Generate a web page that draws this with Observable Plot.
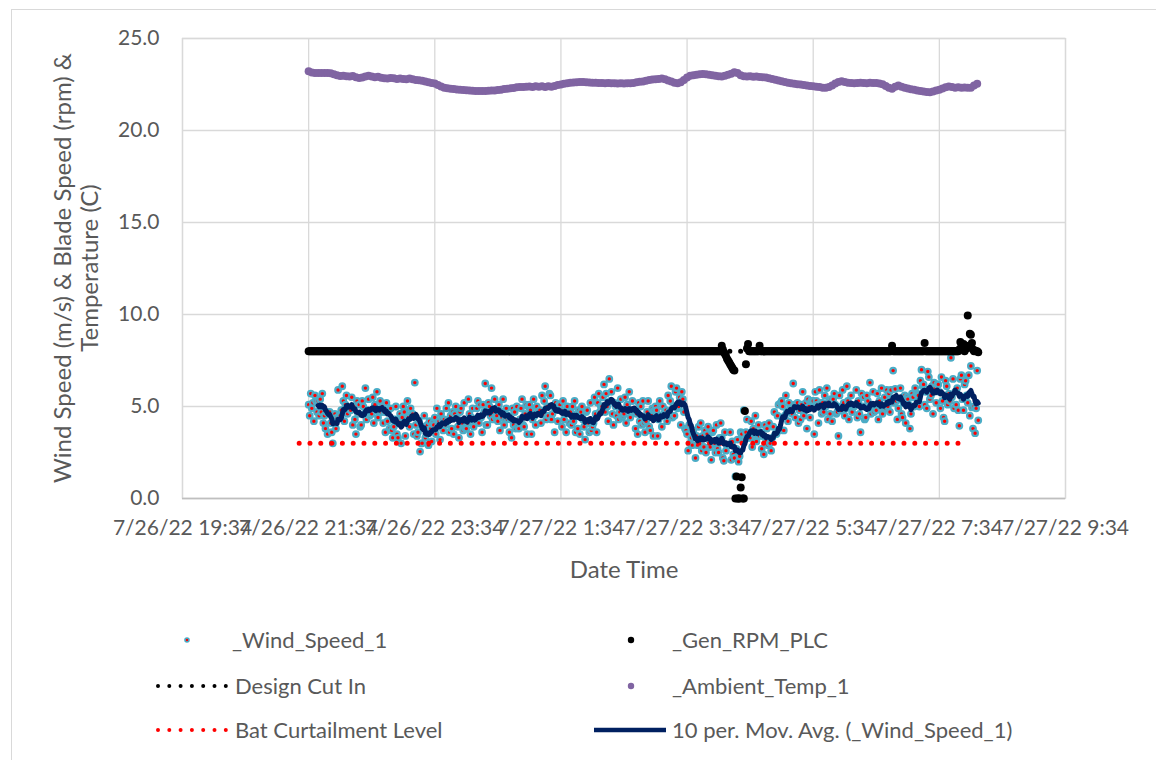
<!DOCTYPE html>
<html><head><meta charset="utf-8">
<script src="https://cdn.jsdelivr.net/npm/d3@7"></script>
<script src="https://cdn.jsdelivr.net/npm/@observablehq/plot@0.6"></script>
<style>
html,body{margin:0;padding:0;background:#fff;overflow:hidden;}
#wrap{position:relative;width:1156px;height:760px;font-family:Lato,"Noto Sans",sans-serif;color:#595959;overflow:hidden;}
#frame{position:absolute;left:11px;top:9px;width:1300px;height:900px;border:1.5px solid #d9d9d9;box-sizing:border-box;}
#chart{position:absolute;left:0;top:0;}
#overlay{position:absolute;left:0;top:0;}
.ytitle{position:absolute;left:75px;top:268px;transform:translate(-50%,-50%) rotate(-90deg);white-space:nowrap;text-align:center;font-size:24px;line-height:27px;}
.xtitle{position:absolute;left:624px;top:568px;transform:translate(-50%,-50%);font-size:24px;white-space:nowrap;}
</style></head><body>
<div id="wrap">
  <div id="frame"></div>
  <div id="chart"></div>
  <div class="ytitle">Wind Speed (m/s) &amp; Blade Speed (rpm) &amp;<br>Temperature (C)</div>
  <div class="xtitle">Date Time</div>
  <svg id="overlay" width="1156" height="760"></svg>
</div>
<script>
// ---------- DATA ----------
const xTickLabels = ["7/26/22 19:34","7/26/22 21:34","7/26/22 23:34","7/27/22 1:34","7/27/22 3:34","7/27/22 5:34","7/27/22 7:34","7/27/22 9:34"];
const yTicks = [0, 5, 10, 15, 20, 25];
const sampleStart = "7/26/22 21:34";
const windStepMin = 1, rpmStepMin = 1, tempStepMin = 3;

// _Wind_Speed_1 (m/s), one reading per minute from 21:34
const windSpeed = [
5.1,4.5,5.7,4.9,5.2,4.2,5.6,5.3,4.7,5.3,
4.5,5.4,4.7,5.7,4.1,4.5,3.8,4.7,3.5,4.6,
4.7,4.1,3.6,3.0,4.4,4.6,3.8,4.4,5.9,4.5,
4.5,4.8,6.1,5.3,4.2,5.1,5.6,4.6,4.9,4.9,
4.8,5.5,4.0,5.0,4.3,3.5,5.3,4.6,5.1,3.9,
4.0,5.3,5.0,4.6,6.0,4.3,4.8,5.4,4.5,4.6,
4.6,5.5,4.1,5.1,4.8,5.8,4.4,4.7,5.3,4.7,
5.0,4.1,4.7,3.6,5.2,4.2,4.8,3.8,4.9,3.7,
3.3,3.9,4.3,5.0,3.5,3.3,4.2,4.6,3.0,4.4,
5.0,4.7,3.4,4.2,5.3,4.4,3.9,4.9,4.6,4.6,
3.5,6.3,4.0,3.4,3.6,4.2,2.55,3.0,3.0,3.9,
4.5,3.3,3.5,4.0,2.9,4.2,3.8,3.1,4.1,4.0,
4.4,3.5,4.9,3.9,4.2,3.2,4.6,4.3,3.7,4.3,
4.0,4.9,4.2,5.2,3.6,4.5,3.8,4.7,3.5,4.6,
5.0,4.4,3.9,3.3,4.7,4.9,4.1,3.7,5.2,3.8,
3.8,4.1,5.4,4.6,3.5,4.4,4.9,3.9,4.2,4.2,
4.9,5.3,4.1,5.1,4.4,3.6,5.1,4.7,6.25,4.0,
4.0,5.2,5.0,4.5,6.0,4.3,4.7,5.4,4.4,4.5,
4.2,5.1,3.7,4.7,4.4,5.4,4.0,4.3,4.9,4.3,
4.5,3.6,4.3,3.3,4.9,4.0,4.7,3.8,5.0,3.9,
3.8,4.3,4.9,5.4,4.0,3.9,4.6,5.1,3.5,5.0,
5.1,4.8,3.5,4.3,5.4,4.5,4.0,5.0,4.7,4.7,
4.8,4.1,5.6,4.6,5.3,6.1,4.3,5.0,4.5,5.7,
5.6,4.3,4.6,5.0,3.6,5.2,4.8,4.2,5.1,5.1,
4.8,3.9,5.3,4.3,4.6,3.6,5.0,4.7,4.1,4.7,
4.0,5.0,4.2,5.3,3.6,4.6,3.8,4.8,3.5,4.7,
5.0,4.3,3.9,3.2,4.7,4.8,4.1,3.6,5.2,3.7,
3.9,4.1,5.5,4.6,3.6,5.2,5.7,4.7,5.0,5.0,
5.5,6.2,4.7,5.7,5.0,4.2,6.5,5.3,5.8,4.6,
4.0,5.2,5.0,4.5,6.0,4.3,4.7,5.4,4.4,4.5,
4.6,5.5,4.1,5.1,4.8,5.8,4.4,4.7,5.3,4.7,
4.8,3.8,4.6,3.5,5.2,4.2,5.0,4.0,5.3,4.1,
3.6,4.2,4.7,5.3,3.9,3.7,4.5,4.9,3.4,4.8,
5.0,4.8,3.4,4.3,5.3,4.5,3.9,5.0,4.6,4.7,
4.8,4.2,5.6,4.7,5.3,6.1,4.4,5.0,4.5,5.8,
6.0,4.9,5.0,5.5,4.0,5.8,5.4,4.7,3.8,3.7,
3.5,2.6,4.0,3.0,3.3,2.9,3.7,3.4,2.2,3.4,
2.9,3.9,3.1,4.1,2.6,3.4,2.8,3.7,2.5,3.5,
3.9,3.2,2.8,2.1,3.6,3.7,3.0,2.5,4.0,2.7,
2.5,3.3,4.1,3.3,2.2,2.05,3.6,2.6,2.9,2.9,
2.9,3.6,2.1,3.1,2.4,2.2,1.2,2.7,3.2,2.0,
2.3,3.6,3.5,3.2,4.8,3.2,3.6,4.3,3.3,3.4,
3.3,4.2,2.8,3.8,3.5,4.5,3.1,3.4,4.0,3.4,
3.6,2.7,3.4,2.4,4.0,3.1,3.8,2.9,4.1,3.0,
2.6,3.3,3.9,4.7,3.5,3.5,4.5,5.1,3.7,5.2,
5.3,5.0,3.7,4.5,5.6,4.7,4.2,5.2,4.9,4.9,
4.6,6.25,5.1,4.4,5.1,5.2,4.1,4.8,4.3,5.1,
5.8,4.5,4.8,5.2,3.8,5.4,5.0,4.4,5.3,5.3,
5.3,3.5,5.8,5.3,5.1,4.1,5.9,5.2,4.6,5.2,
4.7,5.6,5.0,6.0,4.3,5.3,4.6,5.4,4.2,5.4,
5.7,5.1,4.6,4.7,3.4,5.6,4.8,5.0,5.9,5.2,
4.5,4.9,6.1,5.3,4.3,5.1,5.6,4.7,5.0,5.0,
5.1,5.9,4.4,5.3,4.6,3.6,5.7,5.0,5.5,4.3,
4.4,5.6,5.3,4.9,6.3,4.6,5.0,5.8,4.7,4.9,
4.8,5.7,4.3,5.3,5.0,6.0,4.6,4.9,5.5,4.9,
5.9,5.0,5.7,4.7,5.9,5.4,6.95,5.2,5.95,5.3,
4.3,4.9,5.4,6.0,4.6,4.4,5.2,5.6,4.1,5.5,
5.4,5.1,3.8,4.6,5.7,5.5,5.0,6.0,5.7,5.7,
5.6,5.0,6.4,7.0,6.1,6.2,5.1,5.8,4.9,6.9,
6.6,5.4,5.6,6.1,4.6,6.3,6.0,5.2,6.2,6.2,
5.8,4.9,6.6,5.3,4.4,4.2,6.4,6.1,5.1,5.7,
5.3,7.65,5.5,6.5,4.9,5.8,5.1,6.0,4.8,3.95,
6.5,6.7,5.4,4.8,6.2,6.4,5.6,5.2,6.7,4.5,
7.2,4.95,3.8,5.0,3.55,4.9,6.95,4.25
];

// _Gen_RPM_PLC, one reading per minute from 21:34
const genRpm = [
8,8,8,8,8,8,8,8,8,8,8,8,8,8,8,8,8,8,8,8,8,8,8,8,8,8,8,8,8,8,
8,8,8,8,8,8,8,8,8,8,8,8,8,8,8,8,8,8,8,8,8,8,8,8,8,8,8,8,8,8,
8,8,8,8,8,8,8,8,8,8,8,8,8,8,8,8,8,8,8,8,8,8,8,8,8,8,8,8,8,8,
8,8,8,8,8,8,8,8,8,8,8,8,8,8,8,8,8,8,8,8,8,8,8,8,8,8,8,8,8,8,
8,8,8,8,8,8,8,8,8,8,8,8,8,8,8,8,8,8,8,8,8,8,8,8,8,8,8,8,8,8,
8,8,8,8,8,8,8,8,8,8,8,8,8,8,8,8,8,8,8,8,8,8,8,8,8,8,8,8,8,8,
8,8,8,8,8,8,8,8,8,8,8,8,8,8,8,8,8,8,8,8,8,8,8,8,8,8,8,8,8,8,
8,8,8,8,8,8,8,8,8,8,8,8,8,8,8,8,8,8,8,8,8,8,8,8,8,8,8,8,8,8,
8,8,8,8,8,8,8,8,8,8,8,8,8,8,8,8,8,8,8,8,8,8,8,8,8,8,8,8,8,8,
8,8,8,8,8,8,8,8,8,8,8,8,8,8,8,8,8,8,8,8,8,8,8,8,8,8,8,8,8,8,
8,8,8,8,8,8,8,8,8,8,8,8,8,8,8,8,8,8,8,8,8,8,8,8,8,8,8,8,8,8,
8,8,8,8,8,8,8,8,8,8,8,8,8,8,8,8,8,8,8,8,8,8,8,8,8,8,8,8,8,8,
8,8,8,8,8,8,8,8,8,8,8,8,8,8,8,8,8,8,8,8,8,8,8,8,8,8,8,8,8,8,
8,8,8,8.3,
8.1,7.95,7.85,7.75,7.6,7.5,7.4,7.3,7.2,7.1,7.0,6.95,
0,1.2,0,0,0,0.6,1.15,0,0,
4.75,7.3,8.15,8.4,
8,8,8,8,8,8,8,8,8,8,8.3,
8,8,8,8,8,8,8,8,8,8,8,8,8,8,8,8,8,8,8,8,8,8,8,8,8,
8,8,8,8,8,8,8,8,8,8,8,8,8,8,8,8,8,8,8,8,8,8,8,8,8,
8,8,8,8,8,8,8,8,8,8,8,8,8,8,8,8,8,8,8,8,8,8,8,8,8,
8,8,8,8,8,8,8,8,8,8,8,8,8,8,8,8,8,8,8,8,8,8,8,8,8,
8,8,8,8,8,8,8,8,8,8,8,8,8,8,8,8,8,8,8,8,8,8,8,8,8,
8.3,
8,8,8,8,8,8,8,8,8,8,8,8,8,8,8,8,8,8,8,8,8,8,8,8,8,8,8,8,8,8,
8.45,
8,8,8,8,8,8,8,8,8,8,8,8,8,8,8,8,8,8,8,8,8,8,8,8,8,8,8,8,8,8,8,8,
8.1,8.5,8.3,8.2,8.4,8.0,8.2,8.15,9.95,8.3,8.95,8.9,8.45,8.1,8.0,8.05,8.0,8.0,7.95
];

// _Ambient_Temp_1 (C), every 3 minutes from 21:34
const ambientTemp = [
23.22,23.15,23.13,23.12,23.12,23.12,23.13,23.11,23.06,23.0,
22.96,22.98,22.95,22.93,22.96,22.9,22.86,22.88,22.94,22.98,
22.93,22.9,22.92,22.87,22.84,22.82,22.86,22.84,22.8,22.82,
22.8,22.78,22.82,22.78,22.74,22.73,22.7,22.66,22.62,22.58,
22.55,22.47,22.39,22.33,22.29,22.27,22.25,22.23,22.22,22.2,
22.19,22.17,22.16,22.15,22.14,22.14,22.15,22.16,22.18,22.18,
22.2,22.22,22.25,22.27,22.29,22.31,22.35,22.37,22.36,22.38,
22.39,22.37,22.4,22.38,22.4,22.37,22.4,22.38,22.42,22.47,
22.5,22.54,22.57,22.6,22.61,22.62,22.63,22.63,22.62,22.61,
22.6,22.6,22.58,22.58,22.57,22.58,22.57,22.57,22.56,22.57,
22.56,22.57,22.57,22.58,22.62,22.65,22.66,22.7,22.74,22.77,
22.79,22.8,22.82,22.78,22.72,22.66,22.6,22.57,22.62,22.75,
22.88,22.97,23.0,23.03,23.06,23.07,23.06,23.03,23.0,22.97,
22.95,22.94,22.98,23.03,23.08,23.17,23.12,23.0,22.95,22.93,
22.95,22.92,22.93,22.91,22.9,22.88,22.84,22.8,22.76,22.72,
22.68,22.64,22.6,22.57,22.54,22.51,22.5,22.47,22.45,22.42,
22.4,22.38,22.36,22.33,22.32,22.36,22.45,22.55,22.63,22.68,
22.64,22.6,22.58,22.57,22.58,22.6,22.58,22.57,22.59,22.58,
22.58,22.56,22.52,22.42,22.32,22.27,22.38,22.45,22.38,22.32,
22.28,22.24,22.21,22.18,22.15,22.12,22.09,22.08,22.12,22.17,
22.22,22.28,22.35,22.39,22.36,22.33,22.35,22.33,22.34,22.32,
22.33,22.45,22.54
];

// Reference levels
const designCutIn = 8.0;
const designCutInSpan = ["7/26/22 21:34", "7/27/22 7:58"];
const batCurtailment = 3.0;
const batCurtailmentSpan = ["7/26/22 21:25", "7/27/22 8:01"];

const seriesNames = ["_Wind_Speed_1", "_Gen_RPM_PLC", "Design Cut In", "_Ambient_Temp_1", "Bat Curtailment Level", "10 per. Mov. Avg. (_Wind_Speed_1)"];

// ---------- BUILD ----------
const parseT = d3.timeParse("%m/%d/%y %H:%M");
const xTicks = xTickLabels.map(parseT);
const labelOf = new Map(xTicks.map((d, i) => [+d, xTickLabels[i]]));
const t0 = parseT(sampleStart);
const windRows = windSpeed.map((v, i) => ({t: d3.timeMinute.offset(t0, i * windStepMin), v}));
const rpmRows = genRpm.map((v, i) => ({t: d3.timeMinute.offset(t0, i * rpmStepMin), v}));
const tempRows = ambientTemp.map((v, i) => ({t: d3.timeMinute.offset(t0, i * tempStepMin), v}));
const cutRows = designCutInSpan.map(s => ({t: parseT(s), v: designCutIn}));
const batRows = batCurtailmentSpan.map(s => ({t: parseT(s), v: batCurtailment}));

const C = {wind: "#4bacc6", windFill: "#ff0000", rpm: "#000000", temp: "#8064a2", bat: "#ff0000", ma: "#002060", grid: "#d9d9d9"};

const chart = Plot.plot({
  width: 1156, height: 600,
  marginLeft: 182, marginRight: 91, marginTop: 38, marginBottom: 102,
  style: {fontFamily: "Lato, 'Noto Sans', sans-serif", fontSize: "21px", color: "#595959", background: "transparent", overflow: "visible"},
  x: {type: "time", domain: [xTicks[0], xTicks[xTicks.length - 1]], ticks: xTicks, tickFormat: d => labelOf.get(+d), tickSize: 0, tickPadding: 22, label: null},
  y: {domain: [0, 25], ticks: yTicks, tickFormat: d3.format(".1f"), tickSize: 0, tickPadding: 23, label: null},
  marks: [
    Plot.gridY(yTicks, {stroke: C.grid, strokeOpacity: 1, strokeWidth: 1.3}),
    Plot.gridX(xTicks, {stroke: C.grid, strokeOpacity: 1, strokeWidth: 1.3}),
    Plot.frame({stroke: C.grid, strokeWidth: 1.3}),
    Plot.ruleY([0], {stroke: "#bfbfbf", strokeWidth: 1.5}),
    Plot.dot(windRows, {x: "t", y: "v", r: 2.8, fill: C.windFill, stroke: C.wind, strokeWidth: 2.2}),
    Plot.dot(rpmRows, {x: "t", y: "v", r: 4, fill: C.rpm, stroke: "none"}),
    Plot.line(cutRows, {x: "t", y: "v", stroke: "#000", strokeWidth: 5, strokeDasharray: "0 10.8", strokeLinecap: "round"}),
    Plot.dot(tempRows, {x: "t", y: "v", r: 4, fill: C.temp, stroke: "none"}),
    Plot.line(batRows, {x: "t", y: "v", stroke: C.bat, strokeWidth: 5, strokeDasharray: "0 10.8", strokeLinecap: "round"}),
    Plot.lineY(windRows, Plot.windowY({k: 10, anchor: "end", reduce: "mean", strict: true}, {x: "t", y: "v", stroke: C.ma, strokeWidth: 5, strokeLinejoin: "round", strokeLinecap: "round"}))
  ]
});
document.getElementById("chart").appendChild(chart);

// ---------- LEGEND ----------
const ov = d3.select("#overlay");
const legendLayout = [
  {kind: "windDot", sx: 187, y: 640, tx: 232},
  {kind: "rpmDot", sx: 631, y: 640, tx: 672},
  {kind: "cutLine", sx: 158, y: 686, tx: 235},
  {kind: "tempDot", sx: 631, y: 686, tx: 672},
  {kind: "batLine", sx: 158, y: 730, tx: 235},
  {kind: "maLine", sx: 594, y: 730, tx: 672}
];
legendLayout.forEach((L, i) => {
  const name = seriesNames[i];
  if (L.kind === "windDot") ov.append("circle").attr("cx", L.sx).attr("cy", L.y).attr("r", 2).attr("fill", C.windFill).attr("stroke", C.wind).attr("stroke-width", 1.6);
  if (L.kind === "rpmDot") ov.append("circle").attr("cx", L.sx).attr("cy", L.y).attr("r", 3.2).attr("fill", C.rpm);
  if (L.kind === "tempDot") ov.append("circle").attr("cx", L.sx).attr("cy", L.y).attr("r", 3.2).attr("fill", C.temp);
  if (L.kind === "cutLine" || L.kind === "batLine") ov.append("line").attr("x1", L.sx).attr("x2", L.sx + 68).attr("y1", L.y).attr("y2", L.y)
      .attr("stroke", L.kind === "cutLine" ? "#000" : C.bat).attr("stroke-width", 4).attr("stroke-dasharray", "0 11.3").attr("stroke-linecap", "round");
  if (L.kind === "maLine") ov.append("line").attr("x1", L.sx).attr("x2", L.sx + 72).attr("y1", L.y).attr("y2", L.y).attr("stroke", C.ma).attr("stroke-width", 4.5);
  ov.append("text").attr("x", L.tx).attr("y", L.y).attr("dy", "0.35em").attr("fill", "#595959")
    .style("font-family", "Lato, 'Noto Sans', sans-serif").style("font-size", "22px").text(name);
});
</script>
</body></html>
